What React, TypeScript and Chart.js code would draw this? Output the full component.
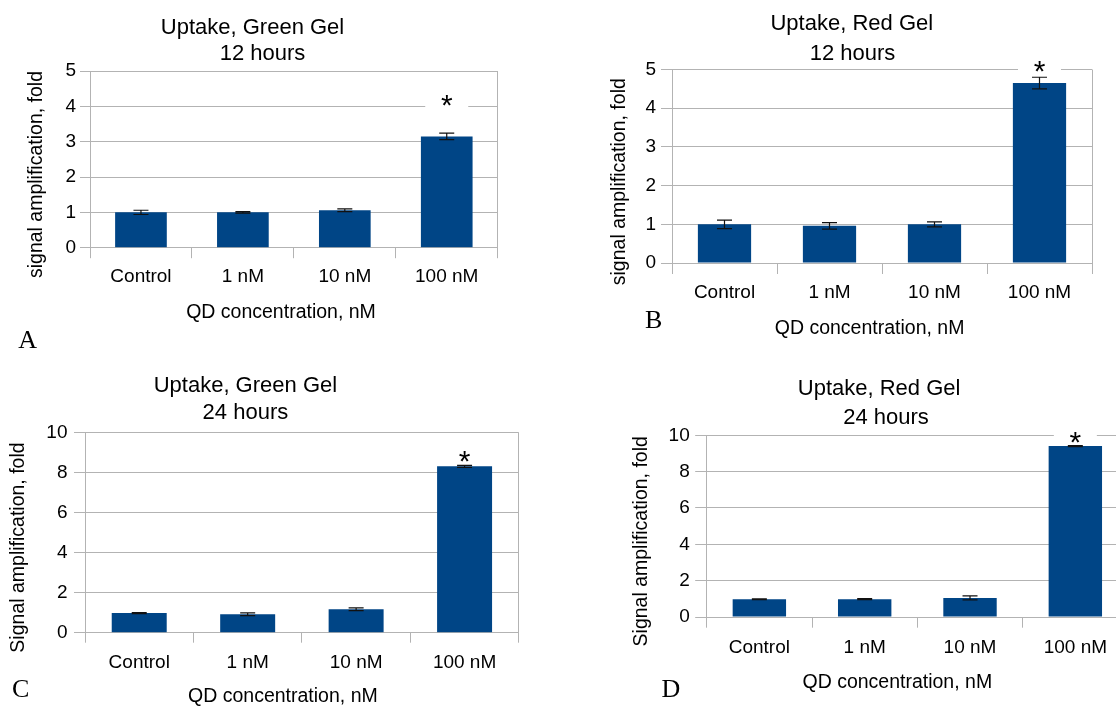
import React, { useEffect, useRef } from "react";
import { Chart, registerables } from "chart.js";

Chart.register(...registerables);

// ---------- data ----------
const categories = ["Control", "1 nM", "10 nM", "100 nM"];

const greenGel12hValues = [1.0, 1.0, 1.06, 3.15];
const greenGel12hErrors = [0.06, 0.02, 0.04, 0.09];

const redGel12hValues = [1.0, 0.96, 1.0, 4.65];
const redGel12hErrors = [0.11, 0.085, 0.065, 0.15];

const greenGel24hValues = [0.98, 0.92, 1.17, 8.32];
const greenGel24hErrors = [0.03, 0.07, 0.07, 0.05];

const redGel24hValues = [0.98, 0.98, 1.05, 9.41];
const redGel24hErrors = [0.02, 0.03, 0.11, 0.03];

const yTicks12h = [0, 1, 2, 3, 4, 5];
const yTicks24h = [0, 2, 4, 6, 8, 10];

// significance marker ("*") heights, in axis units
const starLevels = [4.23, 5.14, 8.97, 10.02];

// ---------- styles ----------
const BAR = "#004586";
const GRID = "#b3b3b3";
const SANS = "'Liberation Sans', Arial, Helvetica, sans-serif";
const SERIF = "'Liberation Serif', 'Times New Roman', Times, serif";

type PanelCfg = {
  letter: string;
  box: [number, number, number, number]; // page x, y, w, h of the canvas
  plot: [number, number, number, number]; // page left, top, right, bottom of plot area
  title: [string, number, number][];
  yTitle: [string, number, number];
  xTitle: [string, number, number];
  letterPos: [number, number];
  values: number[];
  errors: number[];
  yTicks: number[];
  star: number;
  yTickLen: number;
  yTickPad: number;
  xTickLen: number;
  xTickPad: number;
};

const panels: PanelCfg[] = [
  {
    letter: "A",
    box: [0, 0, 558, 355],
    plot: [90, 71, 497.7, 247.7],
    title: [
      ["Uptake, Green Gel", 252.5, 28.3],
      ["12 hours", 262.5, 54.2],
    ],
    yTitle: ["signal amplification, fold", 36.7, 174.5],
    xTitle: ["QD concentration, nM", 281, 313],
    letterPos: [18.3, 348.3],
    values: greenGel12hValues,
    errors: greenGel12hErrors,
    yTicks: yTicks12h,
    star: starLevels[0],
    yTickLen: 10,
    yTickPad: 4,
    xTickLen: 10.5,
    xTickPad: 7.5,
  },
  {
    letter: "B",
    box: [558, 0, 558, 355],
    plot: [672, 69.5, 1092, 263],
    title: [
      ["Uptake, Red Gel", 851.8, 24.2],
      ["12 hours", 852.5, 53.5],
    ],
    yTitle: ["signal amplification, fold", 619.3, 181.7],
    xTitle: ["QD concentration, nM", 869.6, 328.3],
    letterPos: [645, 328.3],
    values: redGel12hValues,
    errors: redGel12hErrors,
    yTicks: yTicks12h,
    star: starLevels[1],
    yTickLen: 11,
    yTickPad: 5,
    xTickLen: 11,
    xTickPad: 7.5,
  },
  {
    letter: "C",
    box: [0, 355, 558, 353],
    plot: [85, 432.7, 518.8, 632.7],
    title: [
      ["Uptake, Green Gel", 245.4, 386.4],
      ["24 hours", 245.4, 412.8],
    ],
    yTitle: ["Signal amplification, fold", 18.9, 547.5],
    xTitle: ["QD concentration, nM", 282.9, 697],
    letterPos: [12, 696.7],
    values: greenGel24hValues,
    errors: greenGel24hErrors,
    yTicks: yTicks24h,
    star: starLevels[2],
    yTickLen: 11,
    yTickPad: 6.5,
    xTickLen: 10,
    xTickPad: 8.5,
  },
  {
    letter: "D",
    box: [558, 355, 600, 353],
    plot: [706.7, 435.3, 1128, 617],
    title: [
      ["Uptake, Red Gel", 879.1, 388.5],
      ["24 hours", 886, 417.5],
    ],
    yTitle: ["Signal amplification, fold", 641.5, 541.3],
    xTitle: ["QD concentration, nM", 897.3, 682.7],
    letterPos: [661.4, 697.3],
    values: redGel24hValues,
    errors: redGel24hErrors,
    yTicks: yTicks24h,
    star: starLevels[3],
    yTickLen: 11.5,
    yTickPad: 5.5,
    xTickLen: 10.7,
    xTickPad: 8.5,
  },
];

function makeOverlay(p: PanelCfg) {
  const ox = p.box[0];
  const oy = p.box[1];
  return {
    id: "overlay" + p.letter,
    afterDatasetsDraw(chart: any) {
      const ctx: CanvasRenderingContext2D = chart.ctx;
      const meta = chart.getDatasetMeta(0);
      const ys = chart.scales.y;
      const last = meta.data[meta.data.length - 1];
      const sy = ys.getPixelForValue(p.star);

      // white label box behind the asterisk
      ctx.save();
      ctx.fillStyle = "#ffffff";
      ctx.fillRect(last.x - 21.5, sy - 10, 43, 20);
      ctx.restore();

      // error bars
      ctx.save();
      ctx.strokeStyle = "#111111";
      ctx.lineWidth = 1.2;
      meta.data.forEach((bar: any, i: number) => {
        const v = p.values[i];
        const e = p.errors[i];
        const yt = ys.getPixelForValue(v + e);
        const yb = ys.getPixelForValue(v - e);
        const x = bar.x;
        const hw = 7.5;
        ctx.beginPath();
        ctx.moveTo(x, yt);
        ctx.lineTo(x, yb);
        ctx.moveTo(x - hw, yt);
        ctx.lineTo(x + hw, yt);
        ctx.moveTo(x - hw, yb);
        ctx.lineTo(x + hw, yb);
        ctx.stroke();
      });
      ctx.restore();

      // asterisk
      ctx.save();
      const size = 30;
      ctx.font = `${size}px ${SANS}`;
      ctx.fillStyle = "#000";
      ctx.textAlign = "center";
      ctx.textBaseline = "alphabetic";
      ctx.fillText("*", last.x, sy + 0.575 * size);
      ctx.restore();
    },
    afterDraw(chart: any) {
      const ctx: CanvasRenderingContext2D = chart.ctx;
      ctx.save();
      ctx.fillStyle = "#000";
      ctx.textAlign = "center";
      ctx.textBaseline = "middle";
      ctx.font = `22px ${SANS}`;
      p.title.forEach(([s, x, y]) => ctx.fillText(s, x - ox, y - oy));

      ctx.font = `19.5px ${SANS}`;
      ctx.fillText(p.xTitle[0], p.xTitle[1] - ox, p.xTitle[2] - oy);

      ctx.save();
      ctx.translate(p.yTitle[1] - ox, p.yTitle[2] - oy);
      ctx.rotate(-Math.PI / 2);
      ctx.fillText(p.yTitle[0], 0, 0);
      ctx.restore();

      ctx.font = `26px ${SERIF}`;
      ctx.textAlign = "left";
      ctx.textBaseline = "alphabetic";
      ctx.fillText(p.letter, p.letterPos[0] - ox, p.letterPos[1] - oy);
      ctx.restore();
    },
  };
}

function makeConfig(p: PanelCfg): any {
  const [bx, by, bw, bh] = p.box;
  const [pl, pt, pr, pb] = p.plot;
  const tickFont = { family: SANS, size: 19 };
  return {
    type: "bar",
    data: {
      labels: categories,
      datasets: [
        {
          data: p.values,
          backgroundColor: BAR,
          borderWidth: 0,
          barPercentage: 0.507,
          categoryPercentage: 1,
        },
      ],
    },
    options: {
      responsive: false,
      maintainAspectRatio: false,
      animation: false,
      devicePixelRatio: 1,
      layout: {
        autoPadding: false,
        padding: { left: 0, top: pt - by, right: bx + bw - pr, bottom: 0 },
      },
      plugins: {
        legend: { display: false },
        title: { display: false },
        tooltip: { enabled: false },
      },
      scales: {
        x: {
          type: "category",
          offset: true,
          grid: {
            offset: true,
            drawOnChartArea: true,
            drawTicks: true,
            tickLength: p.xTickLen,
            color: (c: any) => (c.type === "scale" || c.index === 0 ? GRID : "rgba(0,0,0,0)"),
            tickColor: GRID,
            lineWidth: 1,
          },
          border: { display: true, color: GRID, width: 1 },
          ticks: {
            color: "#000",
            font: tickFont,
            padding: p.xTickPad,
            maxRotation: 0,
            autoSkip: false,
          },
          afterFit: (s: any) => {
            s.height = by + bh - pb;
          },
        },
        y: {
          min: p.yTicks[0],
          max: p.yTicks[p.yTicks.length - 1],
          grid: {
            color: GRID,
            tickColor: GRID,
            drawTicks: true,
            tickLength: p.yTickLen,
            lineWidth: 1,
          },
          border: { display: true, color: GRID, width: 1 },
          ticks: {
            color: "#000",
            font: tickFont,
            padding: p.yTickPad,
          },
          afterBuildTicks: (s: any) => {
            s.ticks = p.yTicks.map((v) => ({ value: v }));
          },
          afterFit: (s: any) => {
            s.width = pl - bx;
          },
        },
      },
    },
    plugins: [makeOverlay(p)],
  };
}

function Panel({ p }: { p: PanelCfg }) {
  const ref = useRef<HTMLCanvasElement | null>(null);
  useEffect(() => {
    if (!ref.current) return;
    const chart = new Chart(ref.current, makeConfig(p));
    return () => chart.destroy();
  }, [p]);
  return (
    <canvas
      ref={ref}
      width={p.box[2]}
      height={p.box[3]}
      style={{
        position: "absolute",
        left: p.box[0],
        top: p.box[1],
        width: p.box[2],
        height: p.box[3],
        display: "block",
      }}
    />
  );
}

export default function App() {
  return (
    <div
      style={{
        position: "fixed",
        left: 0,
        top: 0,
        width: 1116,
        height: 708,
        overflow: "hidden",
        background: "#ffffff",
      }}
    >
      {panels.map((p) => (
        <Panel key={p.letter} p={p} />
      ))}
    </div>
  );
}
